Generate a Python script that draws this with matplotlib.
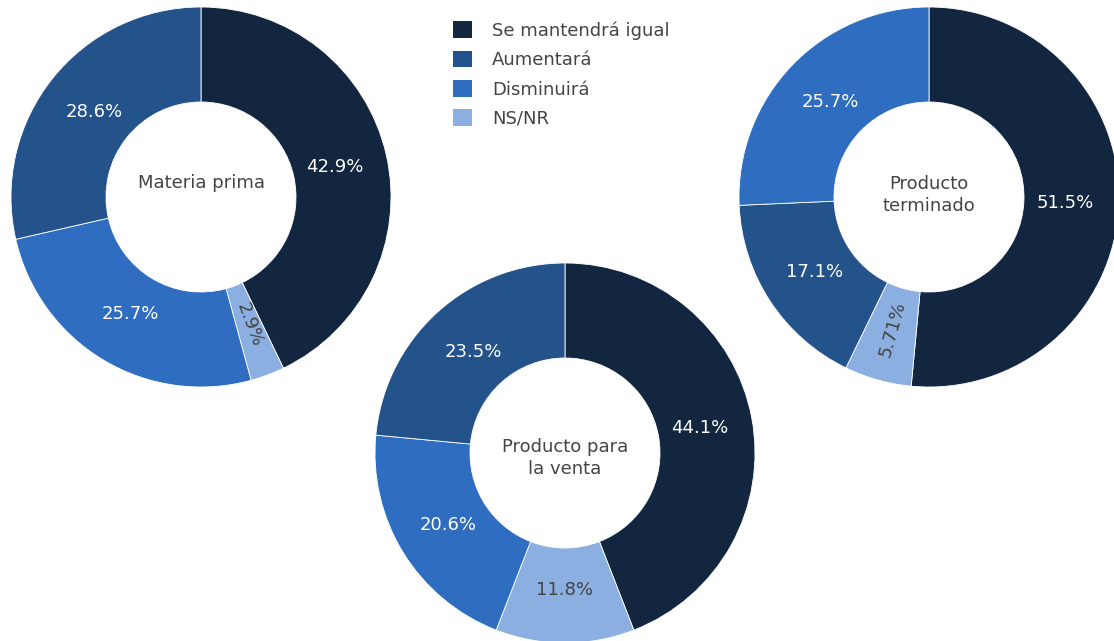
"""
Tres graficos de dona: expectativas por tipo de inventario
"""
import matplotlib
matplotlib.use('Agg')
import matplotlib.pyplot as plt
from matplotlib.patches import Patch
import numpy as np

# Datos (orden de la leyenda)
categorias = ['Se mantendrá igual', 'Aumentará', 'Disminuirá', 'NS/NR']
colores = ['#12263f', '#24538c', '#2e6dbf', '#8aafe0']
color_texto = ['white', 'white', 'white', '#444444']

materia_prima = [42.9, 28.6, 25.7, 2.9]
producto_venta = [44.1, 23.5, 20.6, 11.8]
producto_terminado = [51.5, 17.1, 25.7, 5.71]

titulos = ['Materia prima', 'Producto para\nla venta', 'Producto\nterminado']
series = [materia_prima, producto_venta, producto_terminado]

# centro (px), radio y desplazamiento del titulo, en coordenadas de la imagen
W, H = 1114, 641
centros = [(201, 197, 190, 14), (565, 453, 190, -5), (929, 197, 190, 2)]

fig = plt.figure(figsize=(W / 100, H / 100), dpi=100)
plt.rcParams['font.family'] = ['DejaVu Sans']

for vals, titulo, (cx, cy, r, dy) in zip(series, titulos, centros):
    ax = fig.add_axes([(cx - r) / W, (H - cy - r) / H, 2 * r / W, 2 * r / H])
    # mayor primero, luego el resto de menor a mayor, en sentido horario
    idx = list(np.argsort(vals)[::-1])
    orden = [idx[0]] + idx[1:][::-1]
    v = [vals[i] for i in orden]
    c = [colores[i] for i in orden]
    ax.pie(v, colors=c, startangle=90, counterclock=False, radius=1,
           wedgeprops=dict(width=0.5, edgecolor='white', linewidth=0.6))
    total = sum(v)
    acc = 0
    for i, val in zip(orden, v):
        mid = 90 - (acc + val / 2) / total * 360
        acc += val
        rr = 0.72
        x = rr * np.cos(np.radians(mid))
        y = rr * np.sin(np.radians(mid))
        rot = 0
        if val < 8:
            rot = mid
            if rot < -90:
                rot += 180
        ax.text(x, y, f'{val:g}%', ha='center', va='center', rotation=rot,
                rotation_mode='anchor', fontsize=13, color=color_texto[i])
    ax.text(0, dy / r, titulo, ha='center', va='center', fontsize=13,
            color='#444444', linespacing=1.3)
    ax.set_xlim(-1, 1)
    ax.set_ylim(-1, 1)
    ax.set_aspect('equal')
    ax.axis('off')

# Leyenda
handles = [Patch(facecolor=col, edgecolor='none') for col in colores]
fig.legend(handles, categorias, loc='upper left', bbox_to_anchor=(437 / W, 1 - 5 / H),
           frameon=False, fontsize=13, labelcolor='#444444', handlelength=1.05,
           handleheight=1.05, handletextpad=1.1, labelspacing=0.6)

fig.savefig('out.png', dpi=100)
